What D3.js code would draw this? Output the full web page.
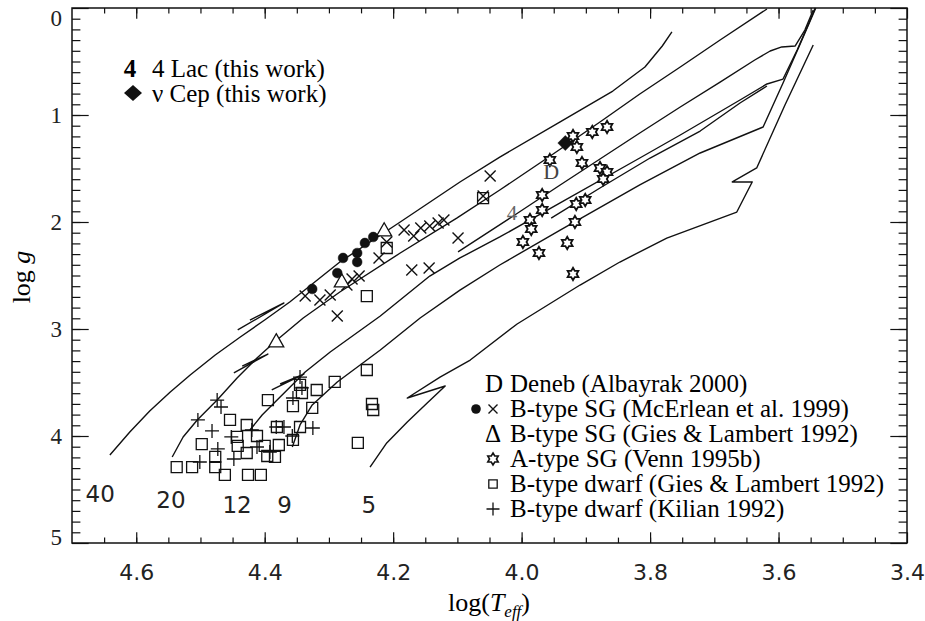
<!DOCTYPE html>
<html>
<head>
<meta charset="utf-8">
<script src="https://cdn.jsdelivr.net/npm/d3@7"></script>
<style>
  body { margin: 0; background: #fff; }
</style>
</head>
<body>
<script>
// evolutionary tracks, [log Teff, log g]
var track40 = [[4.641,4.178],[4.610,3.963],[4.579,3.766],[4.547,3.589],[4.516,3.430],[4.477,3.243],[4.438,3.075],[4.400,2.916],[4.361,2.748],[4.322,2.561],[4.283,2.374],[4.189,2.000],[4.096,1.626],[4.034,1.393],[3.940,1.065],[3.858,0.776],[3.808,0.551],[3.781,0.355],[3.766,0.224]];
var track20 = [[4.544,4.196],[4.527,4.009],[4.505,3.850],[4.474,3.664],[4.443,3.458],[4.412,3.271],[4.381,3.103],[4.340,2.897],[4.283,2.654],[4.189,2.290],[4.101,1.963],[4.034,1.701],[3.960,1.402],[3.878,1.065],[3.816,0.804],[3.753,0.551],[3.691,0.299],[3.618,0.009]];
var track12 = [[4.423,3.944],[4.404,3.804],[4.376,3.636],[4.337,3.402],[4.298,3.215],[4.220,2.879],[4.143,2.505],[4.096,2.336],[4.034,2.140],[3.940,1.822],[3.816,1.402],[3.753,1.187],[3.660,0.860],[3.618,0.710],[3.593,0.664],[3.571,0.393],[3.554,0.159],[3.543,0.000]];
var track9 = [[4.357,4.103],[4.345,3.897],[4.326,3.710],[4.287,3.495],[4.220,3.196],[4.158,2.897],[4.096,2.636],[4.034,2.402],[3.940,2.075],[3.816,1.654],[3.722,1.355],[3.624,1.112],[3.593,0.701],[3.567,0.346],[3.542,0.000]];
var track5 = [[4.236,4.290],[4.210,4.065],[4.178,3.869],[4.147,3.692],[4.119,3.533],[4.178,3.645],[4.127,3.449],[4.080,3.290],[4.007,2.953],[3.909,2.589],[3.847,2.374],[3.774,2.150],[3.665,1.907],[3.641,1.626],[3.672,1.626],[3.634,1.495],[3.590,0.907],[3.546,0.346]];
var loopA = [[4.099,2.280],[4.013,1.944],[3.940,1.654],[3.878,1.411],[3.816,1.168],[3.753,0.925],[3.691,0.692],[3.637,0.486],[3.613,0.402],[3.595,0.364],[3.574,0.355],[3.559,0.206],[3.546,0.019]];
var loopB = [[3.954,1.963],[3.878,1.682],[3.800,1.402],[3.722,1.150],[3.660,0.888],[3.618,0.729]];
var hook40 = [[4.442,3.009],[4.370,2.757],[4.423,2.916]];
var hook20 = [[4.448,3.411],[4.395,3.234],[4.435,3.346]];
var hook12 = [[4.389,3.570],[4.339,3.421],[4.376,3.514]];

var massLabels = ["40", "20", "12", "9", "5"];
var massLabelT = [4.656, 4.546, 4.443, 4.369, 4.238];
var massLabelG = [4.537, 4.593, 4.640, 4.640, 4.640];

// stars
var lac4 = [4.015, 1.916];
var nuCep = [3.932, 1.262];
var deneb = [3.954, 1.523];
var mcErleanDots = [[4.326,2.626],[4.287,2.477],[4.278,2.336],[4.256,2.290],[4.256,2.374],[4.244,2.196],[4.231,2.140]];
var mcErleanCross = [[4.337,2.692],[4.314,2.729],[4.298,2.682],[4.287,2.879],[4.272,2.589],[4.264,2.533],[4.253,2.505],[4.222,2.336],[4.210,2.187],[4.183,2.075],[4.168,2.131],[4.157,2.056],[4.143,2.037],[4.130,2.009],[4.121,1.981],[4.171,2.449],[4.144,2.430],[4.099,2.150],[4.060,1.757],[4.049,1.570]];
var giesSG = [[4.382,3.121],[4.280,2.561],[4.214,2.084]];
var vennA = [[3.890,1.159],[3.867,1.112],[3.920,1.196],[3.914,1.299],[3.906,1.449],[3.956,1.421],[3.878,1.495],[3.867,1.533],[3.873,1.598],[3.968,1.748],[3.968,1.888],[3.987,1.981],[3.985,2.065],[3.998,2.187],[3.973,2.290],[3.917,2.000],[3.915,1.832],[3.901,1.794],[3.929,2.196],[3.920,2.486]];
var giesDwarf = [[4.241,2.692],[4.210,2.243],[4.060,1.776],[4.537,4.290],[4.513,4.290],[4.498,4.075],[4.477,4.196],[4.477,4.290],[4.462,4.364],[4.454,3.850],[4.443,4.009],[4.442,4.093],[4.428,3.897],[4.428,4.159],[4.426,4.364],[4.412,4.000],[4.406,4.364],[4.400,4.093],[4.396,4.187],[4.384,4.196],[4.381,3.916],[4.378,4.084],[4.395,3.664],[4.356,3.720],[4.342,3.598],[4.345,3.523],[4.326,3.738],[4.319,3.570],[4.291,3.495],[4.345,3.916],[4.356,4.037],[4.241,3.383],[4.233,3.701],[4.231,3.757],[4.255,4.065]];
var kilian = [[4.474,3.664],[4.504,3.850],[4.482,3.953],[4.468,3.729],[4.473,4.121],[4.501,4.243],[4.452,4.009],[4.448,4.215],[4.420,3.944],[4.412,4.103],[4.392,4.150],[4.382,3.916],[4.370,3.916],[4.357,4.000],[4.325,3.925],[4.356,3.645],[4.342,3.551],[4.345,3.449]];

var xTicks = [4.6, 4.4, 4.2, 4.0, 3.8, 3.6, 3.4];
var yTicks = [0, 1, 2, 3, 4, 5];

var legendTopText = ["4 Lac (this work)", "\u03bd Cep (this work)"];
var legendText = ["Deneb (Albayrak 2000)", "B-type SG (McErlean et al. 1999)", "B-type SG (Gies & Lambert 1992)",
    "A-type SG (Venn 1995b)", "B-type dwarf (Gies & Lambert 1992)", "B-type dwarf (Kilian 1992)"];

var width = 925, height = 621;
var serif = "'Liberation Serif', 'Times New Roman', serif";
var sans = "'DejaVu Sans', sans-serif";

var svg = d3.select("body").append("svg")
    .attr("width", width)
    .attr("height", height);

var x = d3.scaleLinear().domain([4.7, 3.4]).range([72, 907]);
var y = d3.scaleLinear().domain([0, 5]).range([8, 543]);

var xMinor = d3.range(3.45, 4.7, 0.05);
var yMinor = d3.range(0.1, 5, 0.1);

function styleAxis(g) {
    g.select(".domain").remove();
    g.selectAll("line").attr("stroke", "#111").attr("stroke-width", 1.2);
}

// minor ticks, all four sides
svg.append("g").attr("transform", "translate(0,543)")
    .call(d3.axisBottom(x).tickValues(xMinor).tickSizeInner(-5.4).tickSizeOuter(0).tickFormat(""))
    .call(styleAxis);
svg.append("g").attr("transform", "translate(0,8)")
    .call(d3.axisTop(x).tickValues(xMinor).tickSizeInner(-5.4).tickSizeOuter(0).tickFormat(""))
    .call(styleAxis);
svg.append("g").attr("transform", "translate(72,0)")
    .call(d3.axisLeft(y).tickValues(yMinor).tickSizeInner(-8.4).tickSizeOuter(0).tickFormat(""))
    .call(styleAxis);
svg.append("g").attr("transform", "translate(907,0)")
    .call(d3.axisRight(y).tickValues(yMinor).tickSizeInner(-8.4).tickSizeOuter(0).tickFormat(""))
    .call(styleAxis);

// major ticks
var bottomAxis = svg.append("g").attr("transform", "translate(0,543)")
    .call(d3.axisBottom(x).tickValues(xTicks).tickSizeInner(-10.7).tickSizeOuter(0)
        .tickPadding(21).tickFormat(d3.format(".1f")))
    .call(styleAxis);
bottomAxis.selectAll("text")
    .style("font-family", sans).style("font-size", "22px").attr("fill", "#222");

svg.append("g").attr("transform", "translate(0,8)")
    .call(d3.axisTop(x).tickValues(xTicks).tickSizeInner(-10.7).tickSizeOuter(0).tickFormat(""))
    .call(styleAxis);

var leftAxis = svg.append("g").attr("transform", "translate(72,0)")
    .call(d3.axisLeft(y).tickValues(yTicks).tickSizeInner(-16.7).tickSizeOuter(0)
        .tickPadding(10).tickFormat(d3.format("d")))
    .call(styleAxis);
leftAxis.selectAll("text")
    .style("font-family", serif).style("font-size", "23px").attr("fill", "#222")
    .attr("transform", function(d) { return d === 0 ? "translate(0,10)" : (d === 5 ? "translate(0,-6)" : null); });

svg.append("g").attr("transform", "translate(907,0)")
    .call(d3.axisRight(y).tickValues(yTicks).tickSizeInner(-16.7).tickSizeOuter(0).tickFormat(""))
    .call(styleAxis);

svg.append("rect")
    .attr("x", 72).attr("y", 8)
    .attr("width", 835).attr("height", 535)
    .attr("fill", "none").attr("stroke", "#111").attr("stroke-width", 1.5);

// axis titles
var yTitle = svg.append("text")
    .attr("transform", "translate(30,277) rotate(-90)")
    .attr("text-anchor", "middle")
    .style("font-family", serif).style("font-size", "26px");
yTitle.append("tspan").text("log ");
yTitle.append("tspan").style("font-style", "italic").text("g");

var xTitle = svg.append("text")
    .attr("x", 489).attr("y", 611)
    .attr("text-anchor", "middle")
    .style("font-family", serif).style("font-size", "26px");
xTitle.append("tspan").text("log(");
xTitle.append("tspan").style("font-style", "italic").text("T");
xTitle.append("tspan").style("font-style", "italic").style("font-size", "17px").attr("dy", 6).text("eff");
xTitle.append("tspan").attr("dy", -6).text(")");

// tracks
var line = d3.line()
    .x(function(d) { return x(d[0]); })
    .y(function(d) { return y(d[1]); });

var tracks = [track40, track20, track12, track9, track5, loopA, loopB, hook40, hook20, hook12];
svg.append("g").selectAll("path").data(tracks).enter()
    .append("path")
        .attr("d", line)
        .attr("fill", "none")
        .attr("stroke", "#111")
        .attr("stroke-width", 1.4)
        .attr("stroke-linejoin", "round");

svg.append("g").selectAll("text").data(massLabels).enter()
    .append("text")
        .attr("x", function(d, i) { return x(massLabelT[i]); })
        .attr("y", function(d, i) { return y(massLabelG[i]); })
        .attr("dy", "0.36em")
        .attr("text-anchor", "middle")
        .style("font-family", sans).style("font-size", "23px").attr("fill", "#222")
        .text(function(d) { return d; });

// marker shapes
function hexagram(r) {
    var pts = d3.range(12).map(function(i) {
        var a = -Math.PI / 2 + i * Math.PI / 6;
        var rr = i % 2 === 0 ? r : r * 0.58;
        return [rr * Math.cos(a), rr * Math.sin(a)];
    });
    return "M" + pts.join("L") + "Z";
}
function crossPath(s) { return "M" + (-s) + "," + (-s) + "L" + s + "," + s + "M" + (-s) + "," + s + "L" + s + "," + (-s); }
function plusPath(s) { return "M" + (-s) + ",0H" + s + "M0," + (-s) + "V" + s; }
function squarePath(s) { return "M" + (-s) + "," + (-s) + "h" + (2 * s) + "v" + (2 * s) + "h" + (-2 * s) + "Z"; }
function trianglePath(s) { return "M0," + (-s * 1.1) + "L" + s + "," + (s * 0.65) + "L" + (-s) + "," + (s * 0.65) + "Z"; }
function diamondPath(w, h) { return "M0," + (-h) + "L" + w + ",0L0," + h + "L" + (-w) + ",0Z"; }

function plotMarks(data, path, fill, sw) {
    svg.append("g").selectAll("path").data(data).enter()
        .append("path")
            .attr("transform", function(d) { return "translate(" + x(d[0]) + "," + y(d[1]) + ")"; })
            .attr("d", path)
            .attr("fill", fill)
            .attr("stroke", "#111")
            .attr("stroke-width", sw);
}

plotMarks(giesDwarf, squarePath(5.5), "none", 1.3);
plotMarks(kilian, plusPath(7), "none", 1.3);
plotMarks(mcErleanCross, crossPath(5.5), "none", 1.4);
plotMarks(giesSG, trianglePath(7.5), "#fff", 1.3);
plotMarks(mcErleanDots, d3.symbol().type(d3.symbolCircle).size(75)(), "#111", 0.5);
plotMarks(vennA, hexagram(6.2), "#fff", 1.8);
plotMarks([nuCep], diamondPath(7.5, 7.5), "#111", 0.5);

svg.append("text")
    .attr("x", x(deneb[0])).attr("y", y(deneb[1]))
    .attr("dy", "0.35em").attr("text-anchor", "middle")
    .style("font-family", serif).style("font-size", "22px")
    .attr("fill", "#444")
    .text("D");
svg.append("text")
    .attr("x", x(lac4[0])).attr("y", y(lac4[1]))
    .attr("dy", "0.35em").attr("text-anchor", "middle")
    .style("font-family", serif).style("font-size", "21px")
    .attr("fill", "#666")
    .text("4");

// legend, upper left
var legTop = svg.append("g").style("font-family", serif).style("font-size", "25px");
legTop.selectAll("text.lbl").data(legendTopText).enter()
    .append("text")
        .attr("class", "lbl")
        .attr("x", 152)
        .attr("y", function(d, i) { return 77 + i * 25; })
        .text(function(d) { return d; });
legTop.append("text")
    .attr("x", 130).attr("y", 77)
    .attr("text-anchor", "middle")
    .style("font-weight", "bold")
    .text("4");
legTop.append("path")
    .attr("transform", "translate(133,93)")
    .attr("d", diamondPath(9, 8))
    .attr("fill", "#111");

// legend, lower right
var leg = svg.append("g").style("font-family", serif).style("font-size", "25px");
var legY = function(i) { return 392 + i * 25; };
leg.selectAll("text.lbl").data(legendText).enter()
    .append("text")
        .attr("class", "lbl")
        .attr("x", 510)
        .attr("y", function(d, i) { return legY(i); })
        .text(function(d) { return d; });
leg.append("text").attr("x", 485).attr("y", legY(0)).text("D");
leg.append("circle").attr("cx", 476).attr("cy", legY(1) - 8).attr("r", 4.8).attr("fill", "#111");
leg.append("path").attr("transform", "translate(493," + (legY(1) - 8) + ")")
    .attr("d", crossPath(4.5)).attr("stroke", "#111").attr("stroke-width", 1.4);
leg.append("text").attr("x", 485).attr("y", legY(2)).text("\u0394");
leg.append("path").attr("transform", "translate(493," + (legY(3) - 8) + ")")
    .attr("d", hexagram(6)).attr("fill", "#fff").attr("stroke", "#111").attr("stroke-width", 1.6);
leg.append("path").attr("transform", "translate(493," + (legY(4) - 8) + ")")
    .attr("d", squarePath(4.2)).attr("fill", "none").attr("stroke", "#111").attr("stroke-width", 1.3);
leg.append("path").attr("transform", "translate(493," + (legY(5) - 8) + ")")
    .attr("d", plusPath(6.5)).attr("stroke", "#111").attr("stroke-width", 1.3);
</script>
</body>
</html>
